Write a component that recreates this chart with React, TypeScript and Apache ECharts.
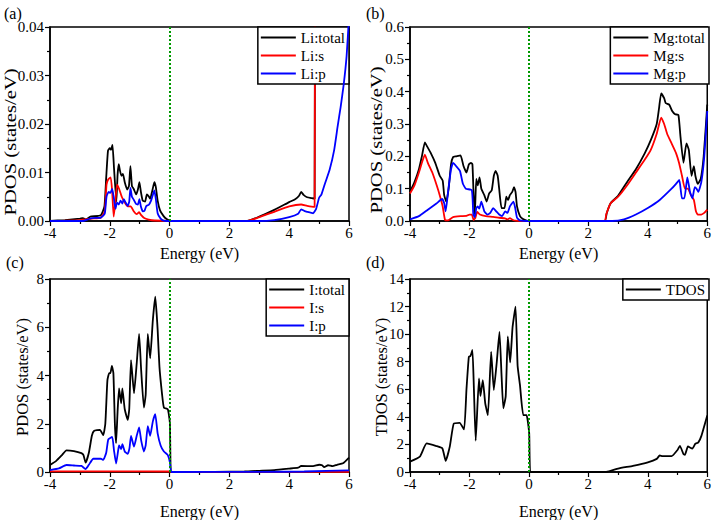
import { useEffect, useRef } from "react";
import * as echarts from "echarts";

type Pt = [number, number];

// Energy axis shared by all four panels (eV)
const energyMin = -4;
const energyMax = 6;
const energyStep = 2;

// Panel (a): Li projected DOS
const liTotal: Pt[] = [
  [-4, 0], [-3.5, 0.0002], [-3.0, 0.0005], [-2.9, 0.0006], [-2.8, 0.0003], [-2.65, 0.0009],
  [-2.3, 0.0012], [-2.18, 0.003], [-2.12, 0.009], [-2.06, 0.0145], [-2.0, 0.015], [-1.96, 0.0147],
  [-1.91, 0.0157], [-1.86, 0.011], [-1.78, 0.004], [-1.74, 0.0095], [-1.7, 0.0117], [-1.66, 0.0104],
  [-1.61, 0.0093], [-1.56, 0.0097], [-1.5, 0.008], [-1.42, 0.0065], [-1.36, 0.0072], [-1.31, 0.0113],
  [-1.26, 0.0072], [-1.2, 0.0066], [-1.12, 0.0055], [-1.06, 0.0065], [-1.01, 0.008], [-0.96, 0.006],
  [-0.9, 0.0042], [-0.82, 0.004], [-0.76, 0.0055], [-0.7, 0.0051], [-0.65, 0.0046], [-0.58, 0.0062],
  [-0.51, 0.008], [-0.46, 0.007], [-0.4, 0.0042], [-0.32, 0.0022], [-0.2, 0.001], [-0.1, 0.0004],
  [0, 0.0001], [0.1, 0], [2.6, 0], [3.0, 0.0009], [3.5, 0.0023], [4.0, 0.0039], [4.2, 0.0045],
  [4.33, 0.0052], [4.4, 0.006], [4.48, 0.0054], [4.6, 0.0049], [4.75, 0.0047], [4.85, 0.0046],
  [4.87, 0.06], [6, 0.1],
];
const liS: Pt[] = [
  [-4, 0], [-3, 0.0002], [-2.6, 0.0005], [-2.3, 0.0007], [-2.17, 0.002], [-2.11, 0.0075],
  [-2.05, 0.0086], [-1.97, 0.009], [-1.92, 0.006], [-1.87, 0.0009], [-1.82, 0.0035], [-1.76, 0.0075],
  [-1.7, 0.0068], [-1.6, 0.005], [-1.5, 0.0038], [-1.4, 0.003], [-1.3, 0.003], [-1.2, 0.002],
  [-1.1, 0.0014], [-1.02, 0.0018], [-0.95, 0.0012], [-0.85, 0.0006], [-0.7, 0.0003], [-0.5, 0.0001],
  [0, 0], [2.6, 0], [3.0, 0.0008], [3.5, 0.0019], [4.0, 0.003], [4.4, 0.0034], [4.6, 0.0031],
  [4.85, 0.0029], [4.87, 0.06], [6, 0.1],
];
const liP: Pt[] = [
  [-4, 0], [-2.9, 0], [-2.75, 0.0003], [-2.6, 0.0006], [-2.3, 0.0007], [-2.17, 0.0015], [-2.11, 0.005],
  [-2.04, 0.006], [-1.98, 0.0058], [-1.92, 0.0066], [-1.87, 0.005], [-1.81, 0.0025], [-1.76, 0.0038],
  [-1.7, 0.0034], [-1.64, 0.0042], [-1.58, 0.0036], [-1.53, 0.0045], [-1.47, 0.0038], [-1.4, 0.0031],
  [-1.35, 0.004], [-1.31, 0.0068], [-1.26, 0.005], [-1.2, 0.0044], [-1.12, 0.0035], [-1.06, 0.0034],
  [-1.01, 0.0045], [-0.96, 0.003], [-0.9, 0.002], [-0.84, 0.0021], [-0.78, 0.0031], [-0.7, 0.0033],
  [-0.62, 0.0042], [-0.51, 0.0063], [-0.46, 0.0045], [-0.4, 0.0016], [-0.3, 0.0005], [-0.2, 0.0001],
  [0, 0], [3.0, 0], [3.5, 0.0002], [4.0, 0.0008], [4.3, 0.0015], [4.4, 0.0024], [4.5, 0.0021],
  [4.6, 0.0019], [4.8, 0.0016], [4.9, 0.0025], [5.0, 0.0048], [5.08, 0.0055], [5.2, 0.0078],
  [5.35, 0.0105], [5.5, 0.0145], [5.62, 0.0195], [5.72, 0.0235], [5.82, 0.028], [5.92, 0.034],
  [6.0, 0.042],
];

// Panel (b): Mg projected DOS
const mgTotal: Pt[] = [
  [-4, 0.09], [-3.85, 0.12], [-3.7, 0.16], [-3.6, 0.2], [-3.5, 0.243], [-3.42, 0.23], [-3.3, 0.21],
  [-3.15, 0.18], [-3.0, 0.14], [-2.9, 0.125], [-2.85, 0.08], [-2.78, 0.06], [-2.7, 0.1], [-2.62, 0.175],
  [-2.55, 0.198], [-2.45, 0.2], [-2.3, 0.203], [-2.2, 0.17], [-2.1, 0.15], [-2.02, 0.175], [-1.95, 0.18],
  [-1.9, 0.175], [-1.86, 0.08], [-1.82, 0.02], [-1.77, 0.13], [-1.72, 0.11], [-1.66, 0.135], [-1.6, 0.1],
  [-1.5, 0.08], [-1.42, 0.06], [-1.34, 0.085], [-1.25, 0.095], [-1.18, 0.14], [-1.12, 0.155],
  [-1.05, 0.14], [-1.0, 0.1], [-0.92, 0.04], [-0.82, 0.04], [-0.76, 0.075], [-0.7, 0.065],
  [-0.64, 0.08], [-0.56, 0.09], [-0.5, 0.105], [-0.45, 0.09], [-0.4, 0.045], [-0.3, 0.015],
  [-0.2, 0.006], [-0.1, 0.002], [0, 0], [2.55, 0], [2.62, 0.025], [2.75, 0.055], [3.0, 0.078],
  [3.3, 0.12], [3.6, 0.16], [3.9, 0.21], [4.1, 0.25], [4.3, 0.3], [4.38, 0.35], [4.45, 0.395],
  [4.55, 0.38], [4.6, 0.365], [4.72, 0.36], [4.82, 0.34], [4.92, 0.33], [5.03, 0.328], [5.1, 0.26],
  [5.2, 0.18], [5.3, 0.24], [5.38, 0.22], [5.47, 0.14], [5.55, 0.17], [5.6, 0.14], [5.68, 0.115],
  [5.78, 0.13], [5.88, 0.2], [6.0, 0.36],
];
const mgS: Pt[] = [
  [-4, 0.085], [-3.85, 0.11], [-3.7, 0.15], [-3.6, 0.18], [-3.5, 0.205], [-3.4, 0.18], [-3.25, 0.15],
  [-3.1, 0.11], [-3.0, 0.08], [-2.9, 0.045], [-2.82, 0.003], [-2.72, 0.002], [-2.55, 0.012],
  [-2.3, 0.015], [-2.1, 0.016], [-2.0, 0.02], [-1.92, 0.02], [-1.86, 0.003], [-1.8, 0.01],
  [-1.74, 0.028], [-1.65, 0.02], [-1.45, 0.015], [-1.2, 0.013], [-1.0, 0.01], [-0.8, 0.008],
  [-0.72, 0.005], [-0.64, 0.009], [-0.55, 0.004], [-0.45, 0.001], [0, 0], [2.55, 0], [2.6, 0.02],
  [2.75, 0.055], [3.0, 0.075], [3.3, 0.11], [3.6, 0.15], [3.9, 0.19], [4.1, 0.22], [4.3, 0.27],
  [4.45, 0.32], [4.55, 0.3], [4.65, 0.27], [4.8, 0.24], [4.95, 0.21], [5.05, 0.18], [5.15, 0.14],
  [5.25, 0.1], [5.35, 0.1], [5.45, 0.08], [5.55, 0.065], [5.62, 0.03], [5.68, 0.02], [5.8, 0.02],
  [5.9, 0.025], [6.0, 0.035],
];
const mgP: Pt[] = [
  [-4, 0.005], [-3.7, 0.015], [-3.4, 0.035], [-3.1, 0.055], [-2.92, 0.068], [-2.85, 0.055],
  [-2.8, 0.03], [-2.72, 0.09], [-2.62, 0.16], [-2.55, 0.18], [-2.45, 0.17], [-2.32, 0.155],
  [-2.22, 0.115], [-2.12, 0.1], [-1.92, 0.095], [-1.87, 0.02], [-1.82, 0.012], [-1.77, 0.04],
  [-1.72, 0.045], [-1.67, 0.038], [-1.6, 0.06], [-1.5, 0.03], [-1.4, 0.02], [-1.3, 0.025],
  [-1.2, 0.04], [-1.1, 0.03], [-1.0, 0.02], [-0.9, 0.015], [-0.8, 0.03], [-0.72, 0.025],
  [-0.64, 0.045], [-0.52, 0.06], [-0.46, 0.04], [-0.4, 0.01], [-0.3, 0.002], [0, 0], [2.8, 0],
  [3.2, 0.005], [3.6, 0.02], [4.0, 0.04], [4.4, 0.065], [4.8, 0.1], [4.95, 0.115], [5.06, 0.127],
  [5.15, 0.07], [5.23, 0.07], [5.33, 0.135], [5.42, 0.09], [5.5, 0.07], [5.58, 0.105], [5.64, 0.1],
  [5.7, 0.09], [5.8, 0.12], [5.9, 0.2], [6.0, 0.34],
];

// Panel (c): I projected DOS
const iTotal: Pt[] = [
  [-4, 0.29], [-3.8, 0.45], [-3.6, 0.7], [-3.45, 0.9], [-3.2, 0.87], [-2.95, 0.78], [-2.88, 0.7],
  [-2.81, 0.39], [-2.7, 0.8], [-2.6, 1.5], [-2.53, 1.7], [-2.33, 1.75], [-2.22, 1.53], [-2.15, 2.0],
  [-2.08, 3.8], [-2.02, 4.1], [-1.98, 4.1], [-1.93, 4.4], [-1.88, 4.1], [-1.83, 2.0], [-1.79, 1.2],
  [-1.74, 2.5], [-1.69, 3.47], [-1.62, 2.85], [-1.58, 3.47], [-1.5, 2.6], [-1.4, 2.16], [-1.35, 2.6],
  [-1.29, 4.64], [-1.19, 3.26], [-1.1, 4.5], [-1.02, 5.72], [-0.95, 4.2], [-0.86, 2.67], [-0.8, 3.2],
  [-0.73, 5.72], [-0.65, 4.71], [-0.56, 6.3], [-0.48, 7.27], [-0.43, 6.5], [-0.4, 5.9], [-0.34, 4.37],
  [-0.25, 3.2], [-0.19, 2.67], [-0.06, 2.6], [0.01, 2.03], [0.07, 0], [0.5, 0], [2.5, 0.02],
  [3.0, 0.05], [3.5, 0.08], [4.0, 0.14], [4.3, 0.18], [4.4, 0.25], [4.8, 0.24], [5.0, 0.3],
  [5.1, 0.28], [5.17, 0.2], [5.3, 0.28], [5.45, 0.24], [5.6, 0.3], [5.8, 0.36], [6.0, 0.6],
];
const iS: Pt[] = [
  [-4, 0.03], [-2, 0.03], [0, 0.02], [0.07, 0.005], [6, 0.005],
];
const iP: Pt[] = [
  [-4, 0.08], [-3.7, 0.15], [-3.45, 0.29], [-3.2, 0.27], [-2.95, 0.25], [-2.81, 0.12], [-2.7, 0.3],
  [-2.55, 0.55], [-2.3, 0.55], [-2.22, 0.5], [-2.12, 0.8], [-2.05, 1.35], [-1.92, 1.45],
  [-1.86, 0.9], [-1.79, 0.35], [-1.72, 0.9], [-1.69, 1.1], [-1.62, 0.95], [-1.58, 1.15],
  [-1.5, 0.85], [-1.4, 0.75], [-1.34, 1.0], [-1.29, 1.5], [-1.19, 1.05], [-1.1, 1.5], [-1.02, 1.85],
  [-0.95, 1.3], [-0.86, 0.85], [-0.8, 1.1], [-0.73, 1.9], [-0.65, 1.5], [-0.56, 2.1], [-0.48, 2.4],
  [-0.4, 1.6], [-0.3, 1.1], [-0.19, 0.85], [-0.06, 0.7], [0.01, 0.4], [0.07, 0], [3.0, 0.005],
  [4.5, 0.02], [6.0, 0.07],
];

// Panel (d): total DOS
const tdos: Pt[] = [
  [-4, 0.75], [-3.67, 1.11], [-3.44, 2.07], [-3.11, 1.88], [-2.91, 1.71], [-2.8, 0.81], [-2.66, 1.86],
  [-2.53, 3.5], [-2.33, 3.57], [-2.18, 3.09], [-2.1, 6.0], [-2.02, 8.36], [-1.97, 8.4], [-1.9, 8.85],
  [-1.85, 6], [-1.79, 2.27], [-1.68, 6.79], [-1.63, 5.51], [-1.55, 6.67], [-1.47, 5], [-1.38, 4.13],
  [-1.27, 8.72], [-1.18, 5.95], [-1.08, 8], [-0.99, 10.16], [-0.92, 7], [-0.86, 4.62], [-0.78, 5.5],
  [-0.71, 9.83], [-0.63, 7.95], [-0.55, 10.5], [-0.45, 11.99], [-0.38, 7.71], [-0.3, 6.3],
  [-0.19, 4.13], [-0.08, 4.13], [0.01, 2.8], [0.07, 0], [2.6, 0], [3.0, 0.25], [3.5, 0.45],
  [4.0, 0.7], [4.3, 0.95], [4.4, 1.2], [4.5, 1.15], [4.8, 1.15], [5.0, 1.6], [5.08, 1.9], [5.2, 1.3],
  [5.25, 1.25], [5.35, 1.85], [5.5, 1.7], [5.6, 2.05], [5.7, 2.15], [5.8, 2.6], [6.0, 4.1],
];

// y-axis ranges per panel
const yMax = [0.04, 0.6, 8, 14];
const yStep = [0.01, 0.1, 2, 2];
const yDecimals = [2, 1, 0, 0];
const yTitles = ["PDOS (states/eV)", "PDOS (states/eV)", "PDOS (states/eV)", "TDOS (states/eV)"];
const panelTags = ["(a)", "(b)", "(c)", "(d)"];

const panelSeries: { name: string; color: string; data: Pt[] }[][] = [
  [
    { name: "Li:total", color: "#000000", data: liTotal },
    { name: "Li:s", color: "#ff0000", data: liS },
    { name: "Li:p", color: "#0000ff", data: liP },
  ],
  [
    { name: "Mg:total", color: "#000000", data: mgTotal },
    { name: "Mg:s", color: "#ff0000", data: mgS },
    { name: "Mg:p", color: "#0000ff", data: mgP },
  ],
  [
    { name: "I:total", color: "#000000", data: iTotal },
    { name: "I:s", color: "#ff0000", data: iS },
    { name: "I:p", color: "#0000ff", data: iP },
  ],
  [{ name: "TDOS", color: "#000000", data: tdos }],
];

const FONT = "Liberation Serif";
const W = 714;

const grids = [
  { left: 50, top: 27, width: 299, height: 194 },
  { left: 410, top: 27, width: 299, height: 194 },
  { left: 50, top: 279, width: 299, height: 193 },
  { left: 410, top: 279, width: 299, height: 193 },
];
const xNameGap = [24, 24, 31, 31];
// rotated y titles: centre x, centre y, font size, stretch along the text
const yTitleLayout = [
  [10, 142, 16.5, 1.25],
  [376, 140, 16.5, 1.25],
  [22, 377, 16.5, 1],
  [381, 377, 16.5, 1],
];
const tagPos = [
  [4, 5],
  [366, 5],
  [6, 254],
  [366, 254],
];

// text style helper: family, size and colour together
const txt = (size: number) => ({
  fontFamily: FONT,
  fontSize: size,
  fontWeight: "normal",
  color: "#000",
});

export default function App() {
  const ref = useRef<HTMLDivElement>(null);

  useEffect(() => {
    if (!ref.current) return;
    const chart = echarts.init(ref.current, null, { renderer: "svg" });

    const xAxis = grids.map((_, i) => ({
      type: "value",
      gridIndex: i,
      min: energyMin,
      max: energyMax,
      interval: energyStep,
      name: "Energy (eV)",
      nameLocation: "middle",
      nameGap: xNameGap[i],
      nameTextStyle: txt(16),
      axisLine: { onZero: false, lineStyle: { color: "#000", width: 1.5 } },
      axisTick: { inside: false, length: 5, lineStyle: { color: "#000", width: 1.2 } },
      minorTick: { show: true, splitNumber: 2, length: 3, lineStyle: { color: "#000", width: 1.2 } },
      splitLine: { show: false },
      minorSplitLine: { show: false },
      axisLabel: { ...txt(15), margin: 4 },
    }));

    const yAxis = grids.map((_, i) => ({
      type: "value",
      gridIndex: i,
      min: 0,
      max: yMax[i],
      interval: yStep[i],
      axisLine: { onZero: false, lineStyle: { color: "#000", width: 1.5 } },
      axisTick: { inside: false, length: 5, lineStyle: { color: "#000", width: 1.2 } },
      minorTick: { show: true, splitNumber: 2, length: 3, lineStyle: { color: "#000", width: 1.2 } },
      splitLine: { show: false },
      minorSplitLine: { show: false },
      axisLabel: {
        ...txt(15),
        margin: 6,
        formatter: (v: number) => v.toFixed(yDecimals[i]),
      },
    }));

    const series: any[] = [];
    panelSeries.forEach((group, gi) => {
      group.forEach((s, si) => {
        series.push({
          type: "line",
          name: s.name,
          xAxisIndex: gi,
          yAxisIndex: gi,
          data: s.data,
          symbol: "none",
          showSymbol: false,
          smooth: 0.15,
          clip: true,
          lineStyle: { color: s.color, width: 1.8 },
          itemStyle: { color: s.color },
          z: 2 + si,
          markLine:
            si === 0
              ? {
                  silent: true,
                  symbol: ["none", "none"],
                  label: { show: false },
                  lineStyle: { color: "#009900", type: [2, 2], width: 2 },
                  data: [{ xAxis: 0 }],
                }
              : undefined,
        });
      });
    });

    const legend = panelSeries.map((group, gi) => ({
      data: group.map((s) => s.name),
      orient: "vertical",
      right: W - (grids[gi].left + grids[gi].width),
      top: grids[gi].top,
      backgroundColor: "#fff",
      borderColor: "#000",
      borderWidth: 1.5,
      borderRadius: 0,
      padding: [3, 4, 3, 3],
      itemGap: 3,
      itemWidth: 35,
      itemHeight: 2,
      icon: "rect",
      selectedMode: false,
      textStyle: txt(15),
    }));

    const graphic: any[] = [];
    yTitles.forEach((t, i) => {
      const [cx, cy, size, stretch] = yTitleLayout[i];
      graphic.push({
        type: "text",
        x: cx,
        y: cy,
        rotation: Math.PI / 2,
        scaleX: stretch,
        style: {
          text: t,
          font: `${size}px ${FONT}`,
          fill: "#000",
          textAlign: "center",
          textVerticalAlign: "middle",
        },
      });
    });
    panelTags.forEach((t, i) => {
      graphic.push({
        type: "text",
        x: tagPos[i][0],
        y: tagPos[i][1],
        style: { text: t, font: `16px ${FONT}`, fill: "#000" },
      });
    });

    chart.setOption({
      animation: false,
      backgroundColor: "#fff",
      textStyle: txt(15),
      grid: grids.map((g) => ({
        ...g,
        show: true,
        borderColor: "#000",
        borderWidth: 1.5,
        backgroundColor: "transparent",
      })),
      xAxis,
      yAxis,
      legend,
      series,
      graphic,
    });

    return () => chart.dispose();
  }, []);

  return (
    <div
      ref={ref}
      style={{ position: "fixed", left: 0, top: 0, width: 714, height: 520, background: "#fff" }}
    />
  );
}
